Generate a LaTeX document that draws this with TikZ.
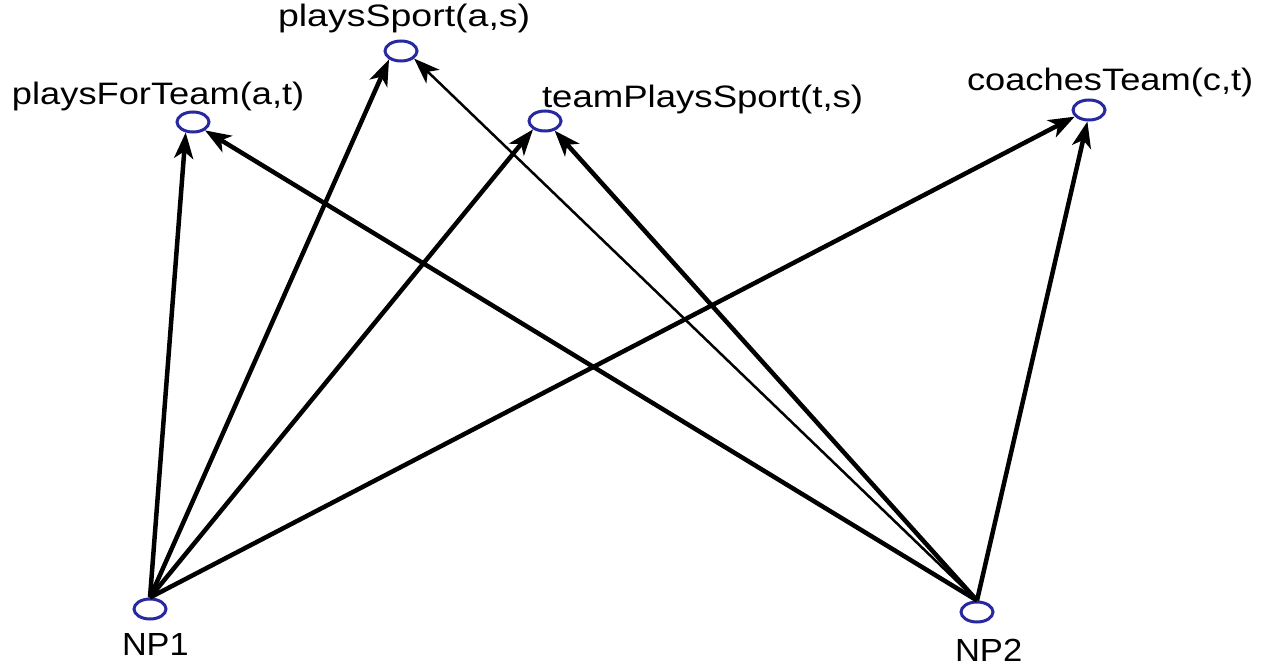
\documentclass[tikz,border=0pt]{standalone}
\usepackage{fontspec}
\setmainfont{Liberation Sans}
\usetikzlibrary{shapes.geometric,arrows.meta}
\definecolor{ringblue}{RGB}{40,40,160}
\tikzset{
  ring/.style={ellipse, draw=ringblue, line width=3pt, inner sep=0pt, minimum width=32pt, minimum height=20pt},
  lbl/.style={anchor=base west, inner sep=0pt, outer sep=0pt, font=\fontsize{31}{36}\selectfont},
  nplbl/.style={anchor=base west, inner sep=0pt, outer sep=0pt, font=\fontsize{32}{38}\selectfont},
  edge/.style={line width=4.5pt, -{Stealth[length=26pt, width=19pt, inset=7pt]}},
  thinedge/.style={line width=2.5pt, -{Stealth[length=26pt, width=19pt, inset=7pt]}}
}
\begin{document}
\begin{tikzpicture}[x=1pt, y=-1pt]
\useasboundingbox (0,0) rectangle (1266,666);
% nodes
\node[ring] (pft) at (193,122) {};
\node[ring] (ps)  at (401,51) {};
\node[ring] (tps) at (545,121) {};
\node[ring] (ct)  at (1089,110) {};
\node[ring] (np1) at (150,609) {};
\node[ring] (np2) at (977,612) {};
% labels
\node[lbl] (tpft) at (12,105) {\scalebox{1.17}[1]{playsForTeam(a,t)}};
\node[lbl] (tps0) at (278,27) {\scalebox{1.21}[1]{playsSport(a,s)}};
\node[lbl] (ttps) at (542,108) {\scalebox{1.18}[1]{teamPlaysSport(t,s)}};
\node[lbl] (tct)  at (967,91) {\scalebox{1.17}[1]{coachesTeam(c,t)}};
\node[nplbl] (tnp1) at (122,655) {\scalebox{1.07}[1]{NP1}};
\node[nplbl] (tnp2) at (955,661) {\scalebox{1.08}[1]{NP2}};
% edges
\draw[edge] (np1.north) -- (pft.235);
\draw[edge] (np1.north) -- (ps.215);
\draw[edge] (np1.north) -- (tps.215);
\draw[edge] (np1.north) -- (ct.205);
\draw[edge] (np2.north) -- (pft.325);
\draw[thinedge] (np2.north) -- (ps.330);
\draw[edge] (np2.north) -- (tps.315);
\draw[edge] (np2.north) -- (ct.262);
\end{tikzpicture}
\end{document}
